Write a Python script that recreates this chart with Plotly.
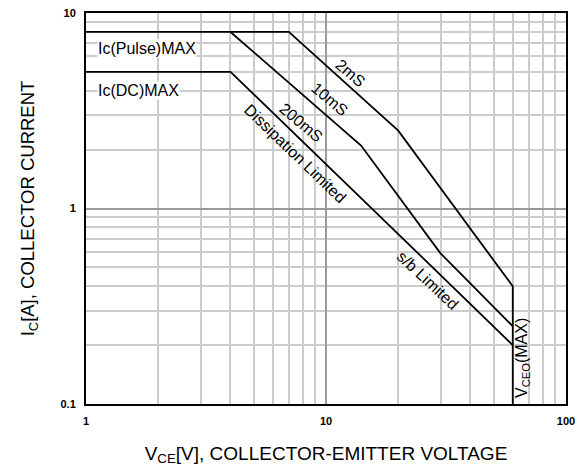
import numpy as np
import plotly.graph_objects as go

# ---- data ----
v_2ms = [1, 7, 20, 60, 60]
i_2ms = [8, 8, 2.5, 0.4, 0.1]
v_10ms = [4, 14, 30, 60]
i_10ms = [8, 2.1, 0.59, 0.25]
v_dc = [1, 4, 20, 60]
i_dc = [5, 5, 0.74, 0.2]

x_tickvals = [1, 10, 100]
x_ticktext = ["1", "10", "100"]
y_tickvals = [0.1, 1, 10]
y_ticktext = ["0.1", "1", "10"]
x_minor = [m * d for d in (1, 10) for m in range(2, 10)]
y_minor = [m * d for d in (0.1, 1) for m in range(2, 10)]

# label positions (data units)
labels = [
    ("Ic(Pulse)MAX", 1.11, 6.6, 0, "left", True),
    ("Ic(DC)MAX", 1.11, 4.03, 0, "left", True),
    ("2mS", 12.7, 4.92, 41, "center", False),
    ("10mS", 10.4, 3.62, 40, "center", False),
    ("200mS", 7.87, 2.76, 40, "center", False),
    ("Dissipation Limited", 7.43, 1.91, 44, "center", False),
    ("s/b Limited", 26.6, 0.428, 43, "center", False),
    ("V<sub>CEO</sub>(MAX)", 66.2, 0.172, -90, "center", False),
]

fig = go.Figure()
line_style = dict(color="black", width=1.8)
for v, i in ((v_2ms, i_2ms), (v_10ms, i_10ms), (v_dc, i_dc)):
    fig.add_trace(go.Scatter(x=v, y=i, mode="lines", line=line_style,
                             showlegend=False, hoverinfo="skip"))

font_lbl = dict(family="Liberation Sans, Arial, sans-serif", size=16, color="black")
for text, x, y, ang, anchor, bg in labels:
    fig.add_annotation(x=np.log10(x), y=np.log10(y), text=text, showarrow=False,
                       textangle=ang, xanchor=anchor, yanchor="middle",
                       font=font_lbl, bgcolor="white" if bg else "rgba(0,0,0,0)",
                       borderpad=0)

axis_common = dict(
    type="log",
    showline=True, linecolor="black", linewidth=2, mirror=True,
    showgrid=True, gridcolor="#9a9a9a", gridwidth=2,
    ticks="", zeroline=False,
    tickfont=dict(family="Liberation Sans, Arial, sans-serif", size=11,
                  color="black", weight="bold"),
    tickmode="array",
    ticklabeloverflow="allow",
)

fig.update_xaxes(
    **axis_common,
    range=[0, 2],
    tickvals=x_tickvals, ticktext=x_ticktext,
    minor=dict(tickmode="array", tickvals=x_minor, showgrid=True,
               gridcolor="#cccccc", gridwidth=1.5, ticks=""),
    title=dict(text="V<sub>CE</sub>[V], COLLECTOR-EMITTER VOLTAGE",
               font=dict(family="Liberation Sans, Arial, sans-serif", size=19,
                         color="black"), standoff=20),
    ticklabelstandoff=6,
)
fig.update_yaxes(
    **axis_common,
    range=[-1, 1],
    tickvals=y_tickvals, ticktext=y_ticktext,
    minor=dict(tickmode="array", tickvals=y_minor, showgrid=True,
               gridcolor="#cccccc", gridwidth=1.5, ticks=""),
    title=dict(text="I<sub>C</sub>[A], COLLECTOR CURRENT",
               font=dict(family="Liberation Sans, Arial, sans-serif", size=18.5,
                         color="black"), standoff=21),
    ticklabelstandoff=6,
)

fig.update_layout(
    width=584, height=470,
    margin=dict(l=78, r=26, t=5, b=74, autoexpand=False),
    paper_bgcolor="white", plot_bgcolor="white",
)

fig.write_html("out.html")
